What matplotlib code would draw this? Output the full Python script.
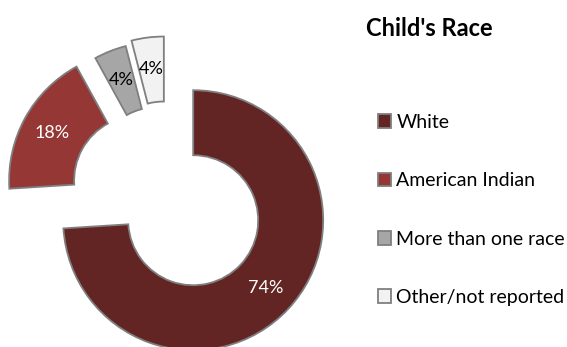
import matplotlib
matplotlib.use("Agg")
from matplotlib import pyplot as plt

# Datos del grafico
categorias = ["White", "American Indian", "More than one race", "Other/not reported"]
porcentajes = [74, 18, 4, 4]
colores = ["#632523", "#953735", "#A6A6A6", "#F2F2F2"]
color_texto = ["white", "white", "black", "black"]
separacion = [0.27, 0.25, 0.2, 0.23]
titulo = "Child's Race"

plt.rcParams['font.family'] = ['Lato', 'DejaVu Sans']

fig = plt.figure(figsize=(5.67, 3.47), dpi=100)
ax = fig.add_axes([0, 0, 1, 1])

wedges, textos, autotextos = ax.pie(
    porcentajes, colors=colores, explode=separacion, startangle=90,
    counterclock=False, autopct='%d%%', pctdistance=0.76,
    wedgeprops=dict(width=0.5, edgecolor='#7f7f7f', linewidth=1.3),
    textprops=dict(fontsize=13))

for t, c in zip(autotextos, color_texto):
    t.set_color(c)

# Limites para ubicar el anillo como en la imagen (radio = 130 px)
r = 130.0
cx_px, cy_px = 167.6, 196.2
ax.set_xlim(-cx_px / r, (567 - cx_px) / r)
ax.set_ylim(-(347 - cy_px) / r, cy_px / r)
ax.set_aspect('auto')
ax.axis('off')

fig.text(366 / 567, 1 - 29 / 347, titulo, fontsize=17, fontweight='bold',
         va='center', ha='left')

leg = ax.legend(wedges, categorias, loc='upper left',
                bbox_to_anchor=(370 / 567, 1 - 106 / 347), frameon=False,
                fontsize=14, handlelength=0.7, handleheight=0.7,
                handletextpad=0.25, labelspacing=2.13, borderaxespad=0)

fig.savefig("out.png", dpi=100)
